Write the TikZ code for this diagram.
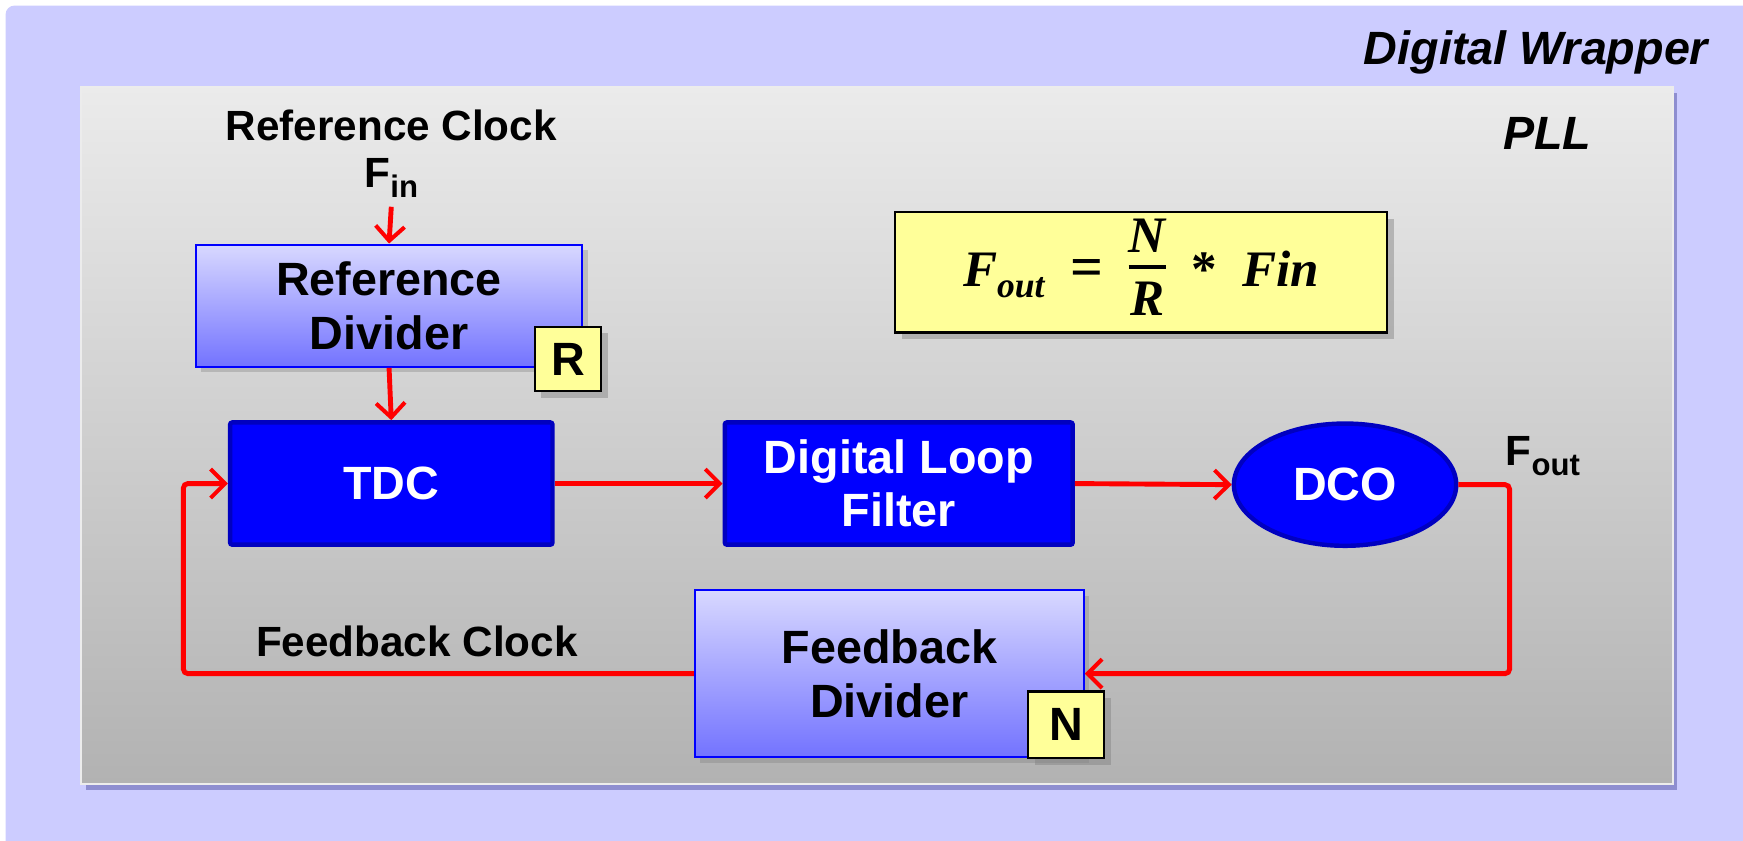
\documentclass[tikz,border=0pt]{standalone}
\usepackage{fontspec}
\setmainfont{Liberation Sans}
\newfontfamily\eqfont{Liberation Serif}
\usetikzlibrary{arrows.meta,shadows,shapes.geometric}

\definecolor{wrapfill}{HTML}{CCCCFF}
\definecolor{plltop}{HTML}{EBEBEB}
\definecolor{pllbot}{HTML}{B2B2B2}
\definecolor{divtop}{HTML}{D8D8FF}
\definecolor{divbot}{HTML}{7373FF}
\definecolor{blkfill}{HTML}{0000FF}
\definecolor{blkedge}{HTML}{0000C0}
\definecolor{notefill}{HTML}{FFFF99}
\definecolor{sigred}{HTML}{FF0000}

\newcommand{\subtxt}[1]{{\fontsize{14}{14}\selectfont\raisebox{-4.5pt}{#1}}}
\newcommand{\pllformula}{\eqfont\bfseries\itshape\fontsize{23}{26}\selectfont
  F{\fontsize{16}{16}\selectfont\raisebox{-5pt}{out}}\enspace{\upshape\fontsize{26}{26}\selectfont=}\enspace
  \begin{tabular}{@{}c@{}}N\\[-2pt]\noalign{\hrule height 1.4pt}\rule{0pt}{21pt}R\end{tabular}%
  \enspace{\upshape *}\enspace Fin}

\tikzset{
  lbl/.style={font=\fontsize{21}{24}\selectfont\bfseries, align=center},
  clklbl/.style={font=\fontsize{19}{22}\selectfont\bfseries, align=center, inner sep=0pt},
  titlelbl/.style={font=\fontsize{21}{24}\selectfont\bfseries\itshape, inner sep=0pt},
  divbox/.style={lbl, draw=blue, line width=0.9pt, top color=divtop, bottom color=divbot,
    drop shadow={opacity=0.35, shadow xshift=2.5pt, shadow yshift=-2.5pt}},
  blkbox/.style={lbl, draw=blkedge, line width=2pt, fill=blkfill, text=white, rounded corners=1pt},
  tagbox/.style={lbl, draw=black, line width=1pt, fill=notefill, inner sep=0pt,
    drop shadow={opacity=0.45, shadow xshift=3pt, shadow yshift=-3pt}},
  sig/.style={draw=sigred, line width=2.2pt},
  arr/.style={-{Straight Barb[length=6.5pt,width=13pt,line width=1.8pt]}},
}

\begin{document}
\begin{tikzpicture}[x=0.5pt, y=-0.5pt]
\useasboundingbox (0,0) rectangle (1568,756);

% Digital wrapper background
\fill[wrapfill, rounded corners=4pt] (5,5) rectangle (1600,800);
\node[titlelbl, anchor=east] (wraplbl) at (1537,47) {Digital Wrapper};

% PLL panel
\path[top color=plltop, bottom color=pllbot, draw=white!85!gray, line width=0.8pt,
  drop shadow={opacity=0.3, shadow xshift=2pt, shadow yshift=-3pt, fill=blue!40!black}]
  (73,78) rectangle (1505,705);
\node[titlelbl] (plllbl) at (1392,120) {PLL};

% reference input
\node[clklbl] (refclk) at (352,113) {Reference Clock};
\node[clklbl] (finlbl) at (352,160) {F\subtxt{in}};
\coordinate (finsrc) at (352,186);

% blocks
\node[divbox, minimum width=174pt, minimum height=55pt] (refdiv) at (350,275) {Reference\\Divider};
\node[tagbox, minimum width=30pt, minimum height=29pt] (rtag) at (511,323) {R};

\node[blkbox, minimum width=145pt, minimum height=55pt] (tdc) at (352,435) {TDC};
\node[blkbox, minimum width=156.5pt, minimum height=55pt] (dlf) at (808.5,435) {Digital Loop\\Filter};
\node[lbl, ellipse, draw=blkedge, line width=2pt, fill=blkfill, text=white, minimum width=100pt, minimum height=55pt, inner sep=0pt] (dco) at (1210,436) {DCO};

\node[divbox, minimum width=175pt, minimum height=75pt] (fbdiv) at (800,606) {Feedback\\Divider};
\node[tagbox, minimum width=34pt, minimum height=30pt] (ntag) at (959,652) {N};

% formula
\node[tagbox, minimum width=221.5pt, minimum height=52pt] (formula) at (1026.5,245) {\pllformula};

% labels
\node[clklbl] (fbclk) at (375,577) {Feedback Clock};
\node[clklbl] (foutlbl) at (1388,410) {F\subtxt{out}};

% signal paths
\coordinate (rgt) at (1358,0);
\coordinate (lft) at (165,0);
\draw[sig, arr] (finsrc) -- (refdiv.north);
\draw[sig, arr] (refdiv.south) -- (tdc.north);
\draw[sig, arr] (tdc.east) -- (dlf.west);
\draw[sig, arr] (dlf.east) -- (dco.west);
\draw[sig, arr, rounded corners=2pt] (dco.east) -- (dco.east -| rgt) -- (rgt |- fbdiv.east) -- (fbdiv.east);
\draw[sig, arr, rounded corners=2pt] (fbdiv.west) -- (fbdiv.west -| lft) -- (lft |- tdc.west) -- (tdc.west);
\end{tikzpicture}
\end{document}
